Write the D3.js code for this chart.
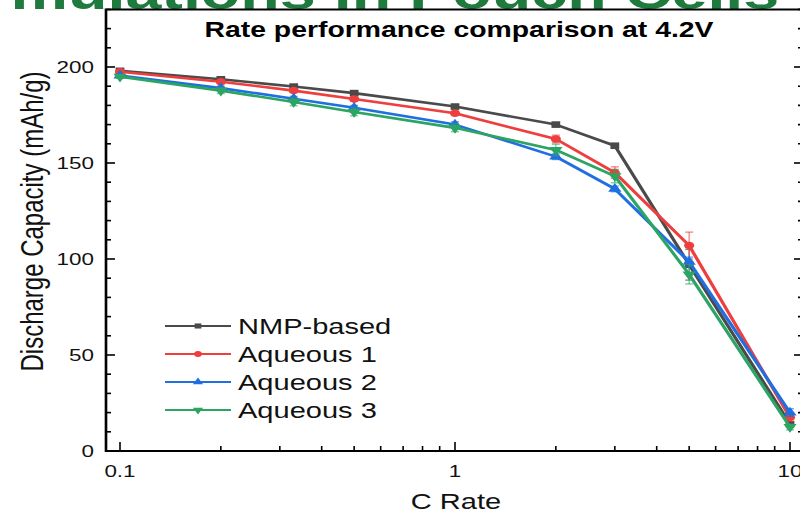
<!DOCTYPE html>
<html>
<head>
<meta charset="utf-8">
<script src="https://cdn.jsdelivr.net/npm/d3@7"></script>
<style>
  html, body { margin: 0; padding: 0; background: #fff; }
  svg { display: block; }
  text { font-family: "Liberation Sans", Arial, sans-serif; }
</style>
</head>
<body>
<div id="chart"></div>
<script>
// C-rate steps and discharge capacities (mAh/g) with error bars
const rates = [0.1, 0.2, 0.33, 0.5, 1, 2, 3, 5, 10];
const seriesNames = ["NMP-based", "Aqueous 1", "Aqueous 2", "Aqueous 3"];
const nmpBased = [198, 193.6, 189.8, 186.4, 179.4, 170, 159, 97, 14];
const aqueous1 = [197.5, 192.3, 187.7, 183.3, 175.9, 162.5, 145, 107, 17.5];
const aqueous2 = [195.5, 189, 183.5, 178.8, 170, 153.3, 136.5, 98.5, 20];
const aqueous3 = [195, 187.7, 181.8, 176.6, 168.3, 156.8, 143.2, 92, 12.5];
const nmpErr = [0.8, 0.8, 0.8, 0.8, 0.8, 0.8, 1, 8, 1];
const aq1Err = [0.8, 1, 1, 1, 1, 2, 3, 7, 2];
const aq2Err = [0.8, 1, 1.2, 1.2, 1.5, 1.5, 1.5, 2.5, 2];
const aq3Err = [0.8, 1.5, 2, 2, 2, 3, 3.5, 5, 1.5];
const yTicks = [0, 50, 100, 150, 200];
const xTicks = [0.1, 1, 10];
const xTickLabels = ["0.1", "1", "10"];

const colors = ["#4a4a4a", "#ef3e3e", "#1f6fe0", "#2ca463"];
const symbols = [d3.symbolSquare, d3.symbolCircle, d3.symbolTriangle, d3.symbolTriangle];
const symRot = [0, 0, 0, 180];
const values = [nmpBased, aqueous1, aqueous2, aqueous3];
const errors = [nmpErr, aq1Err, aq2Err, aq3Err];

// The drawing is laid out on a narrower canvas and stretched horizontally
const SX = 1.32;
const W = 800, H = 512, VW = W / SX;
const px = v => v / SX; // screen x (px) -> canvas units

const svg = d3.select("#chart").append("svg")
  .attr("width", W).attr("height", H)
  .attr("viewBox", `0 0 ${VW} ${H}`)
  .attr("preserveAspectRatio", "none");

const frameL = px(106), frameR = px(803);
const x = d3.scaleLog().domain([0.1, 10]).range([px(120), px(790)]);
const y = d3.scaleLinear().domain([0, 230]).range([451, 9.4]);
const frameT = y(230), frameB = y(0);

// Banner heading across the top
svg.append("text")
  .attr("x", -71).attr("y", 8.5)
  .attr("font-size", 49).attr("font-weight", "bold")
  .attr("fill", "#1e7b3d")
  .text("Formulations in Pouch Cells");

svg.append("rect").attr("x", frameL).attr("y", frameT)
  .attr("width", frameR - frameL).attr("height", frameB - frameT)
  .attr("fill", "#fff");

// Frame
const axisColor = "#000";
svg.append("path")
  .attr("d", `M${frameL},${frameT}H${frameR}V${frameB}H${frameL}Z`)
  .attr("fill", "none").attr("stroke", axisColor).attr("stroke-width", 2);

// Y ticks, left and right, pointing inward
const majLen = 9, minLen = 5;
const yMinor = d3.range(0, 231, 10);
yMinor.forEach(v => {
  const isMaj = v % 50 === 0;
  const len = isMaj ? majLen : minLen;
  svg.append("line").attr("x1", frameL).attr("x2", frameL + px(len))
    .attr("y1", y(v)).attr("y2", y(v)).attr("stroke", axisColor).attr("stroke-width", 1.6);
  svg.append("line").attr("x1", frameR).attr("x2", frameR - px(len))
    .attr("y1", y(v)).attr("y2", y(v)).attr("stroke", axisColor).attr("stroke-width", 1.6);
});
yTicks.forEach(v => {
  svg.append("text").attr("x", px(94)).attr("y", y(v) + 6)
    .attr("text-anchor", "end").attr("font-size", 17).attr("fill", "#111")
    .text(v);
});

// X ticks (log), bottom, pointing inward
const xMinor = [];
[0.1, 1].forEach(d => { for (let k = 1; k <= 9; k++) xMinor.push(d * k); });
xMinor.push(10);
xMinor.forEach(v => {
  const isMaj = xTicks.some(t => Math.abs(t - v) < 1e-9);
  const len = isMaj ? majLen : minLen;
  svg.append("line").attr("x1", x(v)).attr("x2", x(v))
    .attr("y1", frameB).attr("y2", frameB - len)
    .attr("stroke", axisColor).attr("stroke-width", 1.6 / SX);
});
xTicks.forEach((v, i) => {
  svg.append("text").attr("x", x(v)).attr("y", 477)
    .attr("text-anchor", "middle").attr("font-size", 17).attr("fill", "#111")
    .text(xTickLabels[i]);
});

// Axis titles
svg.append("text").attr("x", px(456)).attr("y", 509)
  .attr("text-anchor", "middle").attr("font-size", 22).attr("fill", "#111")
  .text("C Rate");
svg.append("text")
  .attr("transform", `translate(${px(43)},221.5) rotate(-90)`)
  .attr("text-anchor", "middle").attr("font-size", 24).attr("fill", "#111")
  .text("Discharge Capacity (mAh/g)");

// Chart title
svg.append("text").attr("x", px(459)).attr("y", 37)
  .attr("text-anchor", "middle").attr("font-size", 21.5).attr("font-weight", "bold")
  .attr("fill", "#000")
  .text("Rate performance comparison at 4.2V");

// Series
const plot = svg.append("g");
const line = d3.line().x(d => x(d.r)).y(d => y(d.v));
const capW = px(8) / 2;

values.forEach((vals, si) => {
  const data = rates.map((r, i) => ({ r, v: vals[i], e: errors[si][i] }));
  const g = plot.append("g");
  g.append("path").datum(data).attr("d", line)
    .attr("fill", "none").attr("stroke", colors[si]).attr("stroke-width", 2.6)
    .attr("stroke-linejoin", "round");
  // error bars
  const eb = g.append("g").attr("stroke", colors[si]).attr("stroke-opacity", 0.65)
    .attr("stroke-width", 1.3);
  data.forEach(d => {
    eb.append("line").attr("x1", x(d.r)).attr("x2", x(d.r))
      .attr("y1", y(d.v - d.e)).attr("y2", y(d.v + d.e)).attr("stroke-width", 1.3 / SX);
    eb.append("line").attr("x1", x(d.r) - capW).attr("x2", x(d.r) + capW)
      .attr("y1", y(d.v + d.e)).attr("y2", y(d.v + d.e));
    eb.append("line").attr("x1", x(d.r) - capW).attr("x2", x(d.r) + capW)
      .attr("y1", y(d.v - d.e)).attr("y2", y(d.v - d.e));
  });
  const sym = d3.symbol().type(symbols[si]).size(si === 1 ? 46 : 44);
  g.selectAll("path.m").data(data).enter().append("path")
    .attr("class", "m")
    .attr("d", sym)
    .attr("transform", d => `translate(${x(d.r)},${y(d.v)}) rotate(${symRot[si]})`)
    .attr("fill", colors[si]);
});

// Legend
const legRows = [326, 354, 382, 410];
seriesNames.forEach((name, si) => {
  const ly = legRows[si];
  svg.append("line").attr("x1", px(165)).attr("x2", px(231))
    .attr("y1", ly).attr("y2", ly).attr("stroke", colors[si]).attr("stroke-width", 2.2);
  svg.append("path")
    .attr("d", d3.symbol().type(symbols[si]).size(26)())
    .attr("transform", `translate(${px(198)},${ly}) rotate(${symRot[si]})`)
    .attr("fill", colors[si]);
  svg.append("text").attr("x", px(238)).attr("y", ly + 8)
    .attr("font-size", 22).attr("fill", "#111")
    .text(name);
});
</script>
</body>
</html>
